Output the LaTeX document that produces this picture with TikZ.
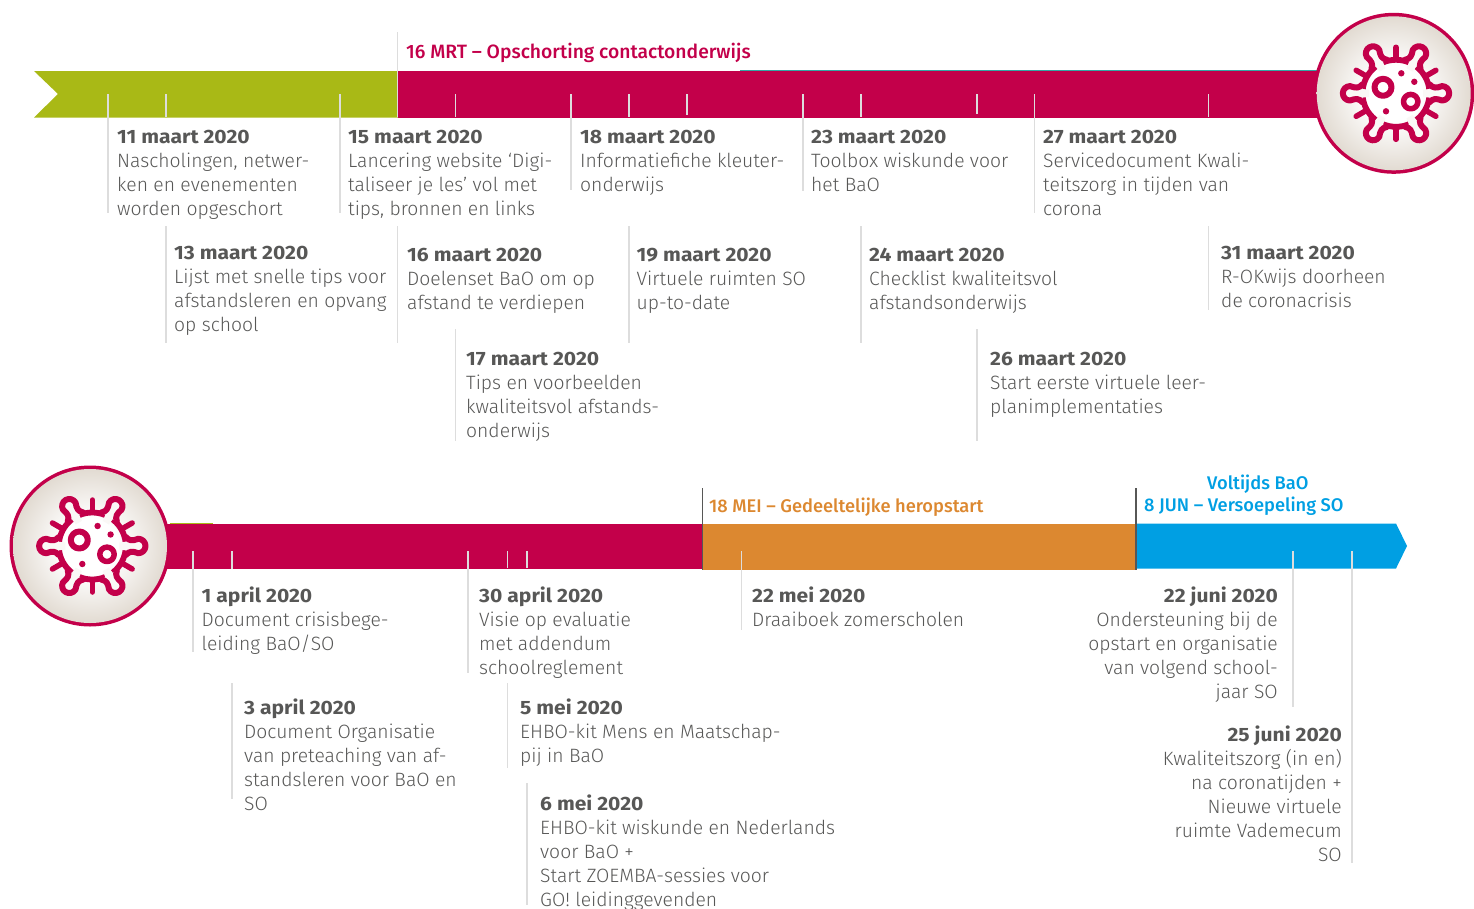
\documentclass[tikz,border=0pt]{standalone}
\usepackage{fontspec}
\setmainfont{Fira Sans Light}
\newfontfamily\hdfont{Fira Sans Bold}[FakeStretch=1.09]
\newfontfamily\phfont{Fira Sans Medium}
\usetikzlibrary{calc}
\definecolor{crimson}{HTML}{C3004A}
\definecolor{lime}{HTML}{A9B916}
\definecolor{amber}{HTML}{DC8830}
\definecolor{sky}{HTML}{009FE3}
\definecolor{ink}{HTML}{575756}
\definecolor{hair}{HTML}{DDDDDD}
\definecolor{discedge}{HTML}{E2DBD2}
\definecolor{slot}{HTML}{FAF8F6}
\pgfdeclareradialshading{discshade}{\pgfpoint{0bp}{0bp}}{color(0bp)=(white); color(9bp)=(white); color(25bp)=(discedge); color(50bp)=(discedge)}
\tikzset{
  entry/.style={anchor=north west,inner sep=0pt,align=left,text=ink,font=\fontsize{19.3}{24}\selectfont},
  entryr/.style={anchor=north east,inner sep=0pt,align=right,text=ink,font=\fontsize{19.3}{24}\selectfont},
  tick/.style={draw=hair,line width=1.6pt},
  darktick/.style={draw=ink,line width=1.6pt},
  phase/.style={anchor=base west,inner sep=0pt,font=\fontsize{18.3}{22}\selectfont\phfont},
}
\newcommand{\hd}[1]{\rule{0pt}{15pt}{\hdfont #1}}
\newcommand{\tl}[5]{\node[entry] (#1) at ({#2},{#3-15}) {\hd{#4}\\#5};}
\newcommand{\tr}[5]{\node[entryr] (#1) at ({#2},{#3-15}) {\hd{#4}\\#5};}
\newcommand{\seg}[3]{\draw[tick] (#1,#2) -- (#1,#3);}
\newcommand{\virus}[4]{%
  \fill[crimson] (#1,#2) circle (80.5);
  \shade[shading=discshade] (#1,#2) circle (77);
  \begin{scope}[shift={(#3,#4)},x=1pt,y=1pt,crimson,line cap=round,line join=round]
    \draw[line width=5.8pt] (0,0) circle (33.5);
    \foreach \a in {90,270,30,150,210,330}{
      \draw[line width=5.5pt,rotate=\a] (34,0) -- (46,0);
    }
    \foreach \a in {0,180,60,120,240,300}{
      \begin{scope}[rotate=\a]
        \fill[slot] (27,-3.5) -- (47,-6) -- (47,6) -- (27,3.5) -- cycle;
        \draw[line width=6pt,fill=slot] (33.5,-9) .. controls (37,-5) and (40,-5) .. (46,-7.2) arc[start angle=-90,end angle=90,radius=7.2] .. controls (40,5) and (37,5) .. (33.5,9);
      \end{scope}
    }
    \draw[line width=6pt] (-13,6) circle (8.5);
    \draw[line width=5.5pt] (14.7,-8.3) circle (7.2);
    \fill (5.3,20) circle (3.2);
    \fill (18.3,11.5) circle (3.2);
    \fill (-10,-18) circle (3.2);
  \end{scope}
}
\begin{document}
\begin{tikzpicture}[x=1pt,y=-1pt]
\useasboundingbox (0,0) rectangle (1474,908);
% bars
\fill[lime] (34,71) -- (398,71) -- (398,117.5) -- (34,117.5) -- (58,94) -- cycle;
\fill[crimson] (398,71) rectangle (1330,117.5);
\draw[sky!70!lime,line width=0.8pt] (740,70.3) -- (1320,70.3);
\draw[lime,line width=0.8pt] (170,523.6) -- (213,523.6);
\fill[crimson] (160,524) rectangle (703,569);
\fill[amber] (702,523.5) rectangle (1136,570);
\fill[sky] (1136,523.5) -- (1396,523.5) -- (1407,546) -- (1396,568.5) -- (1136,568.5) -- cycle;
% ticks, upper timeline
\seg{108}{94}{213}
\seg{166}{94}{117}\seg{166}{226}{343}
\seg{339.7}{94}{213}
\seg{397.5}{32}{117}\seg{397.5}{226}{343}
\seg{455.5}{94}{117}\seg{455.5}{329}{441}
\seg{571}{94}{190}
\seg{629}{94}{117}\seg{629}{226}{343}
\seg{687}{94}{115}
\seg{802.7}{94}{190.5}
\seg{860.7}{94}{117}\seg{860.7}{226}{343}
\seg{976.8}{94}{114}\seg{976.8}{329}{441}
\seg{1034.3}{94}{213}
\seg{1208.3}{94}{117}\seg{1208.3}{226}{310}
% ticks, lower timeline
\seg{192.7}{551}{652}
\seg{232}{551}{569}\seg{232}{683}{799}
\seg{467.7}{551}{673}
\seg{507.3}{551}{568}\seg{507.3}{683}{768}
\seg{526.8}{551}{568}\seg{526.8}{783}{905}
\seg{741.5}{551}{630}
\seg{1292.7}{551}{707}
\seg{1351.7}{551}{863}
\draw[darktick] (702.5,488) -- (702.5,570);
\draw[darktick] (1136,488) -- (1136,570);
% discs
\virus{1393.7}{93.3}{1396}{93.3}
\virus{90}{546}{92.3}{546}
% phases
\node[phase,text=crimson,font=\fontsize{19.3}{22}\selectfont\phfont] (p1) at (406,58) {16 MRT – Opschorting contactonderwijs};
\node[phase,text=amber] (p2) at (709,512) {18 MEI – Gedeeltelijke heropstart};
\node[phase,text=sky] (p3) at (1144,511) {8 JUN – Versoepeling SO};
\node[phase,text=sky] (p4) at (1207,489) {Voltijds BaO};
% entries
\tl{a}{117}{143}{11 maart 2020}{Nascholingen, netwer-\\ken en evenementen\\worden opgeschort}
\tl{b}{174}{259}{13 maart 2020}{Lijst met snelle tips voor\\afstandsleren en opvang\\op school}
\tl{c}{348}{143}{15 maart 2020}{Lancering website ‘Digi-\\taliseer je les’ vol met\\tips, bronnen en links}
\tl{d}{407}{261}{16 maart 2020}{Doelenset BaO om op\\afstand te verdiepen}
\tl{e}{466}{365}{17 maart 2020}{Tips en voorbeelden\\kwaliteitsvol afstands-\\onderwijs}
\tl{f}{580}{143}{18 maart 2020}{Informatiefiche kleuter-\\onderwijs}
\tl{g}{636.5}{261}{19 maart 2020}{Virtuele ruimten SO\\up-to-date}
\tl{h}{811}{143}{23 maart 2020}{Toolbox wiskunde voor\\het BaO}
\tl{i}{869}{261}{24 maart 2020}{Checklist kwaliteitsvol\\afstandsonderwijs}
\tl{j}{990}{365}{26 maart 2020}{Start eerste virtuele leer-\\planimplementaties}
\tl{k}{1043}{143}{27 maart 2020}{Servicedocument Kwali-\\teitszorg in tijden van\\corona}
\tl{l}{1221}{259}{31 maart 2020}{R-OKwijs doorheen\\de coronacrisis}
\tl{m}{201.5}{601.5}{1 april 2020}{Document crisisbege-\\leiding BaO/SO}
\tl{n}{244}{713.5}{3 april 2020}{Document Organisatie\\van preteaching van af-\\standsleren voor BaO en\\SO}
\tl{o}{479}{601.5}{30 april 2020}{Visie op evaluatie\\met addendum\\schoolreglement}
\tl{q}{520}{713.5}{5 mei 2020}{EHBO-kit Mens en Maatschap-\\pij in BaO}
\tl{r}{540}{809.5}{6 mei 2020}{EHBO-kit wiskunde en Nederlands\\voor BaO +\\Start ZOEMBA-sessies voor\\GO! leidinggevenden}
\tl{s}{752}{601.5}{22 mei 2020}{Draaiboek zomerscholen}
\tr{t}{1278}{601.5}{22 juni 2020}{Ondersteuning bij de\\opstart en organisatie\\van volgend school-\\jaar SO}
\tr{u}{1342}{740.5}{25 juni 2020}{Kwaliteitszorg (in en)\\na coronatijden +\\Nieuwe virtuele\\ruimte Vademecum\\SO}
\end{tikzpicture}
\end{document}
